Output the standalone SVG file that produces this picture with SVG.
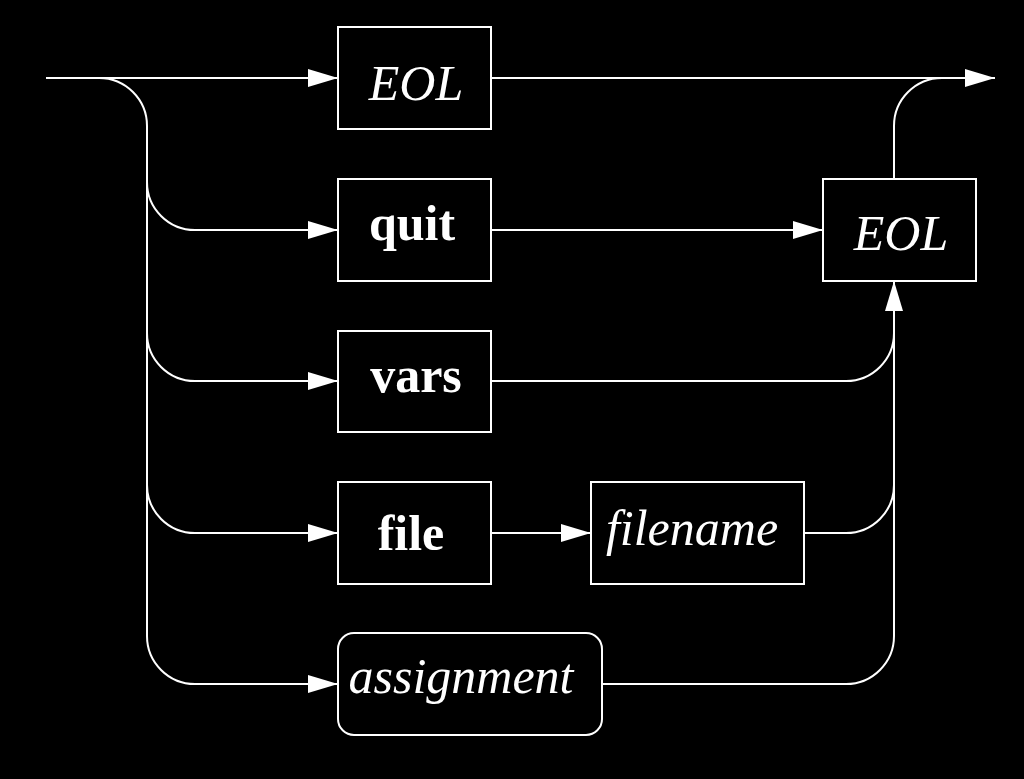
<svg xmlns="http://www.w3.org/2000/svg" width="1024" height="779" viewBox="0 0 1024 779">
<defs>
<style>
.box{fill:#000;stroke:#fff;stroke-width:2}
.ln{fill:none;stroke:#fff;stroke-width:2}
.t{fill:#fff;font-family:"Liberation Serif","Times New Roman",serif;font-size:50px;text-anchor:middle}
.i{font-style:italic}
.b{font-weight:bold}
</style>
<marker id="ah" markerUnits="userSpaceOnUse" markerWidth="30" markerHeight="18" refX="30" refY="9" orient="auto">
<path d="M0,0 L30,9 L0,18 z" fill="#fff"/>
</marker>
</defs>
<rect width="1024" height="779" fill="#000"/>
<g id="connectors">
<path class="ln" d="M46,78 H338" marker-end="url(#ah)"/>
<path class="ln" d="M99,78 A48,48 0 0 1 147,126 V636 A48,48 0 0 0 195,684 H338" marker-end="url(#ah)"/>
<path class="ln" d="M147,182 A48,48 0 0 0 195,230 H338" marker-end="url(#ah)"/>
<path class="ln" d="M147,333 A48,48 0 0 0 195,381 H338" marker-end="url(#ah)"/>
<path class="ln" d="M147,485 A48,48 0 0 0 195,533 H338" marker-end="url(#ah)"/>
<path class="ln" d="M491,230 H823" marker-end="url(#ah)"/>
<path class="ln" d="M491,78 H995" marker-end="url(#ah)"/>
<path class="ln" d="M894,179 V126 A48,48 0 0 1 942,78"/>
<path class="ln" d="M894,636 V281" marker-end="url(#ah)"/>
<path class="ln" d="M491,381 H846 A48,48 0 0 0 894,333"/>
<path class="ln" d="M491,533 H591" marker-end="url(#ah)"/>
<path class="ln" d="M804,533 H846 A48,48 0 0 0 894,485"/>
<path class="ln" d="M602,684 H846 A48,48 0 0 0 894,636"/>
</g>
<g id="eol1"><rect class="box" x="338" y="27" width="153" height="102"/><text class="t i" x="416" y="100">EOL</text></g>
<g id="quit"><rect class="box" x="338" y="179" width="153" height="102"/><text class="t b" x="412" y="240">quit</text></g>
<g id="vars"><rect class="box" x="338" y="331" width="153" height="101"/><text class="t b" x="416" y="392">vars</text></g>
<g id="file"><rect class="box" x="338" y="482" width="153" height="102"/><text class="t b" x="411" y="550">file</text></g>
<g id="filename"><rect class="box" x="591" y="482" width="213" height="102"/><text class="t i" x="692" y="545">filename</text></g>
<g id="assignment"><rect class="box" x="338" y="633" width="264" height="102" rx="16" ry="16"/><text class="t i" x="461" y="693">assignment</text></g>
<g id="eol2"><rect class="box" x="823" y="179" width="153" height="102"/><text class="t i" x="901" y="250">EOL</text></g>
</svg>
